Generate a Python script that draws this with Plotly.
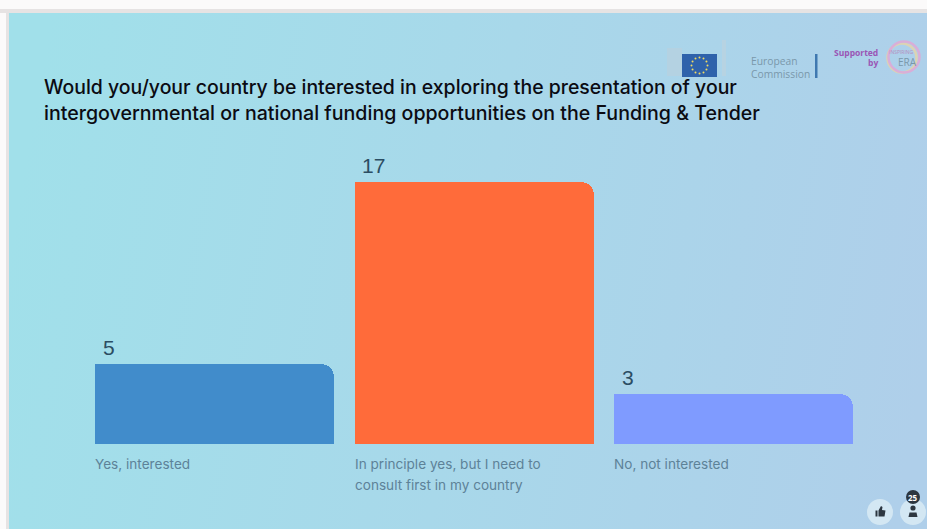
import base64
import plotly.graph_objects as go

W, H = 927, 529

# Poll results
categories = ["Yes, interested", "In principle yes, but I need to\nconsult first in my country", "No, not interested"]
votes = [5, 17, 3]
bar_colors = ["#418ccb", "#ff6b3a", "#7f9bff"]
title_lines = [
    "Would you/your country be interested in exploring the presentation of your",
    "intergovernmental or national funding opportunities on the Funding & Tender",
]
title_sizes = [19.46, 19.6]
positions = [0, 1, 2]

BAR_WIDTH = 0.921
FOOT = 0.28  # every bar keeps a small minimum foot below zero


def px(x):
    return x / W


def py(y):
    return 1 - y / H


def rect(x0, y0, x1, y1, color, **kw):
    return dict(type="rect", xref="paper", yref="paper", x0=px(x0), x1=px(x1), y0=py(y0), y1=py(y1),
                fillcolor=color, line=dict(width=0), **kw)


def circle(cx, cy, r, color, line=None):
    return dict(type="circle", xref="paper", yref="paper", x0=px(cx - r), x1=px(cx + r),
                y0=py(cy - r), y1=py(cy + r), fillcolor=color, line=line or dict(width=0))


def poly(points, color):
    d = "M" + " L".join(f"{px(x):.5f},{py(y):.5f}" for x, y in points) + " Z"
    return dict(type="path", xref="paper", yref="paper", path=d, fillcolor=color, line=dict(width=0))


def label(x, y, text, size, color, family="Inter", xanchor="left", bold=False, yanchor="middle", weight=None):
    font = dict(size=size, color=color, family=family)
    if weight:
        font["weight"] = weight
    return dict(xref="paper", yref="paper", x=px(x), y=py(y), text=f"<b>{text}</b>" if bold else text,
                showarrow=False, xanchor=xanchor, yanchor=yanchor, align="left", borderpad=0, borderwidth=0,
                font=font)


slide_svg = f"""<svg xmlns='http://www.w3.org/2000/svg' width='{W}' height='{H}'>
<defs><linearGradient id='g' x1='0' y1='0.45' x2='1' y2='0.55'>
<stop offset='0' stop-color='#a1e0ea'/><stop offset='0.5' stop-color='#a8d8ea'/><stop offset='1' stop-color='#afcfea'/>
</linearGradient></defs>
<rect width='{W}' height='{H}' fill='#fbfafa'/>
<rect x='0' y='9' width='{W}' height='4' fill='#e6e3e3'/>
<rect x='6' y='9' width='3' height='{H}' fill='#e6e3e3'/>
<rect x='9' y='13' width='{W}' height='{H}' fill='url(#g)'/>
</svg>"""
slide_uri = "data:image/svg+xml;base64," + base64.b64encode(slide_svg.encode()).decode()

fig = go.Figure()
# Rounded bar: Plotly rounds both top corners
fig.add_bar(x=positions, y=votes, width=BAR_WIDTH, marker=dict(color=bar_colors, cornerradius=13, line=dict(width=0)),
            hoverinfo="skip", showlegend=False)
# Square left half restores the sharp top-left corner
fig.add_bar(x=[p - BAR_WIDTH / 4 for p in positions], y=votes, width=BAR_WIDTH / 2,
            marker=dict(color=bar_colors, line=dict(width=0)), hoverinfo="skip", showlegend=False)
# Minimum foot under the zero line
fig.add_bar(x=positions, y=[FOOT] * len(positions), base=-FOOT, width=BAR_WIDTH,
            marker=dict(color=bar_colors, line=dict(width=0)), hoverinfo="skip", showlegend=False)

annotations = []
for p, v, cat in zip(positions, votes, categories):
    annotations.append(dict(xref="x", yref="y", x=p - BAR_WIDTH / 2, y=v, xshift=6.5, yshift=4, text=str(v),
                            showarrow=False, xanchor="left", yanchor="bottom", borderpad=0,
                            font=dict(size=21, color="#2b4d63", family="Liberation Sans")))
    for i, line in enumerate(cat.split("\n")):
        annotations.append(dict(xref="x", yref="paper", x=p - BAR_WIDTH / 2, xshift=-1, y=py(464 + 21 * i), text=line,
                                showarrow=False, xanchor="left", yanchor="middle", borderpad=0,
                                font=dict(size=13.6, color="#5d8298", family="Inter")))

for i, line in enumerate(title_lines):
    annotations.append(label(44, 87 + 26 * i, line, title_sizes[i], "#0b0b12", weight=500))

# Funder logos in the top right corner
annotations += [
    label(751, 61, "European", 10.3, "#7a98aa", family="Open Sans"),
    label(751, 73.5, "Commission", 10.3, "#7a98aa", family="Open Sans"),
    label(878, 52.5, "Supported", 8.5, "#9a56b5", family="Open Sans", xanchor="right", bold=True),
    label(878, 62, "by", 8.5, "#9a56b5", family="Open Sans", xanchor="right", bold=True),
    label(888.5, 52.5, "INSPIRING", 5, "#b48fc0", family="Open Sans"),
    label(898, 62, "ERA", 10, "#7a98aa", family="Open Sans"),
    label(913, 497, "25", 8, "#ffffff", family="Open Sans", xanchor="center", bold=True),
]

shapes = [
    rect(667, 48, 682, 76, "#b4d2e2", layer="below"),
    rect(722, 40, 726, 76, "#b7d3e2", layer="below"),
    rect(682, 54, 717, 77, "#2f62ab"),
    rect(815, 54, 817.5, 78, "#3f78b0"),
    # Inspiring ERA ring
    circle(902, 58, 14.5, "rgba(0,0,0,0)", dict(color="#dcd3b4", width=2.5)),
    circle(904, 57, 15.5, "rgba(0,0,0,0)", dict(color="#d9aed8", width=2.5)),
    # Reaction and participant buttons
    circle(880, 512, 13, "#d3e7f3"),
    circle(913, 512, 13, "#d3e7f3"),
    circle(913, 497, 7, "#2c3640"),
    rect(875.5, 510.5, 877.5, 516.5, "#2c3640"),
    poly([(878.5, 510.5), (881, 506), (882.5, 507), (882, 510), (885.5, 510.5), (884.5, 516.5), (878.5, 516.5)], "#2c3640"),
    circle(913, 508, 2.6, "#2c3640"),
    poly([(908.5, 517), (909.5, 512.5), (916.5, 512.5), (917.5, 517)], "#2c3640"),
]
# Ring of stars on the flag
stars = [(699.5 + 8 * dx, 65.5 + 8 * dy) for dx, dy in
         [(0, -1), (.5, -.87), (.87, -.5), (1, 0), (.87, .5), (.5, .87), (0, 1),
          (-.5, .87), (-.87, .5), (-1, 0), (-.87, -.5), (-.5, -.87)]]
shapes += [circle(x, y, 1, "#f1da63") for x, y in stars]

fig.update_layout(
    width=W, height=H, margin=dict(l=0, r=0, t=0, b=0),
    paper_bgcolor="#a8d8ea", plot_bgcolor="rgba(0,0,0,0)",
    barmode="overlay", bargap=0,
    xaxis=dict(range=[(0 - 214.5) / 259.5, (W - 214.5) / 259.5], visible=False, fixedrange=True),
    yaxis=dict(range=[(439.8 - H) / 15.17, 439.8 / 15.17], visible=False, fixedrange=True),
    images=[dict(source=slide_uri, xref="paper", yref="paper", x=0, y=1, sizex=1, sizey=1,
                 xanchor="left", yanchor="top", sizing="stretch", layer="below")],
    shapes=shapes, annotations=annotations,
)
fig.write_html("out.html", config=dict(displayModeBar=False))
